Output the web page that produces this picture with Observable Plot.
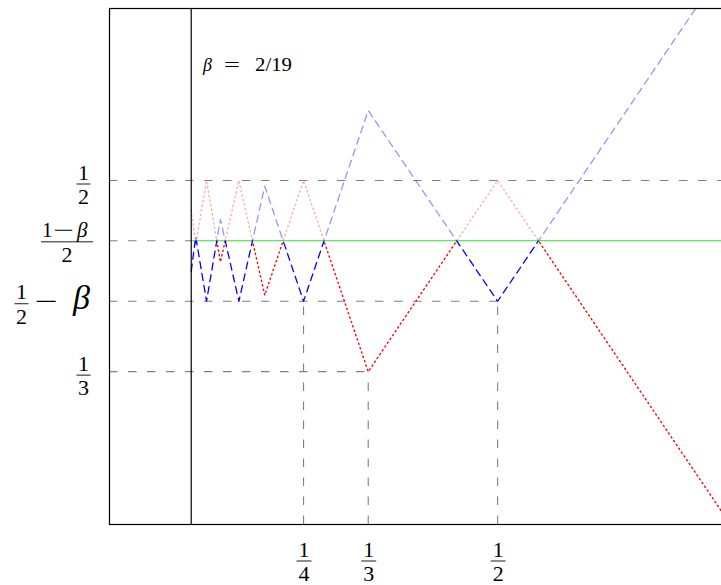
<!DOCTYPE html>
<html><head><meta charset="utf-8">
<script src="https://cdn.jsdelivr.net/npm/d3@7"></script>
<script src="https://cdn.jsdelivr.net/npm/@observablehq/plot@0.6"></script>
<style>html,body{margin:0;padding:0;overflow:hidden;background:#fff;width:721px;height:585px}svg{display:block;max-width:none !important}</style>
</head><body><div id="chart"></div>
<script>
const beta = 2/19;
const xDomain = [0, 0.8];
const yDomain = [0.2, 0.65];
const xNodes = [0.1053, 0.1111, 0.125, 0.1429, 0.1667, 0.2, 0.25, 0.3333, 0.5, 0.8];
const redValues = [0.474, 0.444, 0.5, 0.429, 0.5, 0.4, 0.5, 0.3333, 0.5, 0.2];
const blueValues = [0.421, 0.451, 0.3947, 0.466, 0.3947, 0.495, 0.3947, 0.561, 0.3947, 0.695];
const greenLevel = 0.4474;
const yTickValues = [0.5, 0.4474, 0.3947, 0.3333];
const xTickValues = [0.25, 0.3333, 0.5];
const xTickLabels = [["1","4"],["1","3"],["1","2"]];
const hGuideY = [0.5, 0.4474, 0.3947, 0.3333];
const hGuideEnd = [0.8, beta, 0.5, 0.3333];
const vGuideX = [0.25, 0.3333, 0.5];
const vGuideTop = [0.3947, 0.3333, 0.3947];

const hGuides = hGuideY.map((y, i) => ({y, x1: 0, x2: hGuideEnd[i]}));
const vGuides = vGuideX.map((x, i) => ({x, y1: yDomain[0], y2: vGuideTop[i]}));
const red = xNodes.map((x, i) => ({x, y: redValues[i]}));
const blue = xNodes.map((x, i) => ({x, y: blueValues[i]}));

const grey = "#808080";
const plot = Plot.plot({
  width: 736, height: 585,
  marginLeft: 109, marginRight: 6, marginTop: 8, marginBottom: 61,
  style: {maxWidth: "none"},
  x: {domain: xDomain, axis: null},
  y: {domain: yDomain, axis: null},
  marks: [
    Plot.ruleY(hGuides, {y: "y", x1: "x1", x2: "x2", stroke: grey, strokeWidth: 1.1, strokeDasharray: "8.5,10.5"}),
    Plot.ruleX(vGuides, {x: "x", y1: "y1", y2: "y2", stroke: grey, strokeWidth: 1.1, strokeDasharray: "8.5,10.5"}),
    Plot.ruleY([greenLevel], {x1: beta, x2: xDomain[1], stroke: "#33dd33", strokeWidth: 1.1}),
    Plot.line(red, {x: "x", y: "y", stroke: "#ff0000", strokeOpacity: 0.33, strokeWidth: 1.4, strokeDasharray: "1.3,3.3"}),
    Plot.line(red, {x: "x", y: "y", stroke: "#ff0000", strokeWidth: 1.4, strokeDasharray: "1.3,3.3"}),
    Plot.line(blue, {x: "x", y: "y", stroke: "#0000ff", strokeOpacity: 0.42, strokeWidth: 1.3, strokeDasharray: "7,5"}),
    Plot.line(blue, {x: "x", y: "y", stroke: "#0000ff", strokeWidth: 1.3, strokeDasharray: "7,5"}),
    Plot.ruleX([beta], {stroke: "black", strokeWidth: 1.2}),
    Plot.frame({stroke: "black", strokeWidth: 1.2})
  ]
});
document.getElementById("chart").appendChild(plot);

const svg = d3.select(plot);
const xs = plot.scale("x"), ys = plot.scale("y");
const x0 = xs.apply(xDomain[0]), x1 = xs.apply(xDomain[1]);
const yTop = ys.apply(yDomain[1]), yBot = ys.apply(yDomain[0]);
const yG = ys.apply(greenLevel);
const defs = svg.append("defs");
defs.append("clipPath").attr("id", "clipAbove").append("rect")
  .attr("x", x0).attr("y", yTop).attr("width", x1 - x0).attr("height", yG - yTop);
defs.append("clipPath").attr("id", "clipBelow").append("rect")
  .attr("x", x0).attr("y", yG).attr("width", x1 - x0).attr("height", yBot - yG);
// line groups in mark order: red light, red dark, blue light, blue dark
const lineGroups = svg.selectAll('g[aria-label="line"]').nodes();
lineGroups.forEach((g, i) => g.setAttribute("clip-path", i % 2 === 0 ? "url(#clipAbove)" : "url(#clipBelow)"));

// labels
const font = "Liberation Serif, DejaVu Serif, serif";
const lab = svg.append("g").attr("fill", "black").attr("text-anchor", "start")
  .style("font-family", font);
function txt(x, y, size, anchor) {
  return lab.append("text").attr("x", x).attr("y", y).attr("text-anchor", anchor)
    .style("font-size", size + "px").style("font-family", font);
}
function bar(cx, barY, barW) {
  lab.append("line").attr("x1", cx - barW / 2).attr("x2", cx + barW / 2)
    .attr("y1", barY).attr("y2", barY).attr("stroke", "black").attr("stroke-width", 0.9);
}
function frac(cx, barY, num, den, size, barW) {
  txt(cx, barY - 4.5, size, "middle").text(num);
  bar(cx, barY, barW);
  txt(cx, barY + 20, size, "middle").text(den);
}
frac(83.5, ys.apply(yTickValues[0]) + 4, "1", "2", 22, 14);
// (1 - beta) / 2
{
  const by = ys.apply(yTickValues[1]) + 1.5;
  txt(42, by - 5, 21, "start").text("1");
  txt(53, by - 5, 21, "start").attr("textLength", 21).attr("lengthAdjust", "spacingAndGlyphs").text("\u2212");
  txt(77, by - 5, 21, "start").style("font-style", "italic").text("\u03b2");
  bar(67, by, 52);
  txt(67, by + 20, 22, "middle").text("2");
}
frac(21.5, ys.apply(yTickValues[2]) + 3, "1", "2", 22, 14);
txt(35, ys.apply(yTickValues[2]) + 9, 26, "start")
  .attr("textLength", 23).attr("lengthAdjust", "spacingAndGlyphs").text("\u2212");
txt(73, ys.apply(yTickValues[2]) + 8, 34, "start").style("font-style", "italic").text("\u03b2");
frac(83.5, ys.apply(yTickValues[3]) + 4, "1", "3", 22, 14);
xTickValues.forEach((v, i) => frac(xs.apply(v) + 1, yBot + 37, xTickLabels[i][0], xTickLabels[i][1], 22, 15));
// beta annotation
txt(203, 71, 18, "start").style("font-style", "italic").text("\u03b2");
txt(224, 71, 18, "start").attr("textLength", 16).attr("lengthAdjust", "spacingAndGlyphs").text("=");
txt(255, 71, 18, "start").attr("textLength", 37).attr("lengthAdjust", "spacingAndGlyphs").text("2/19");
</script></body></html>
